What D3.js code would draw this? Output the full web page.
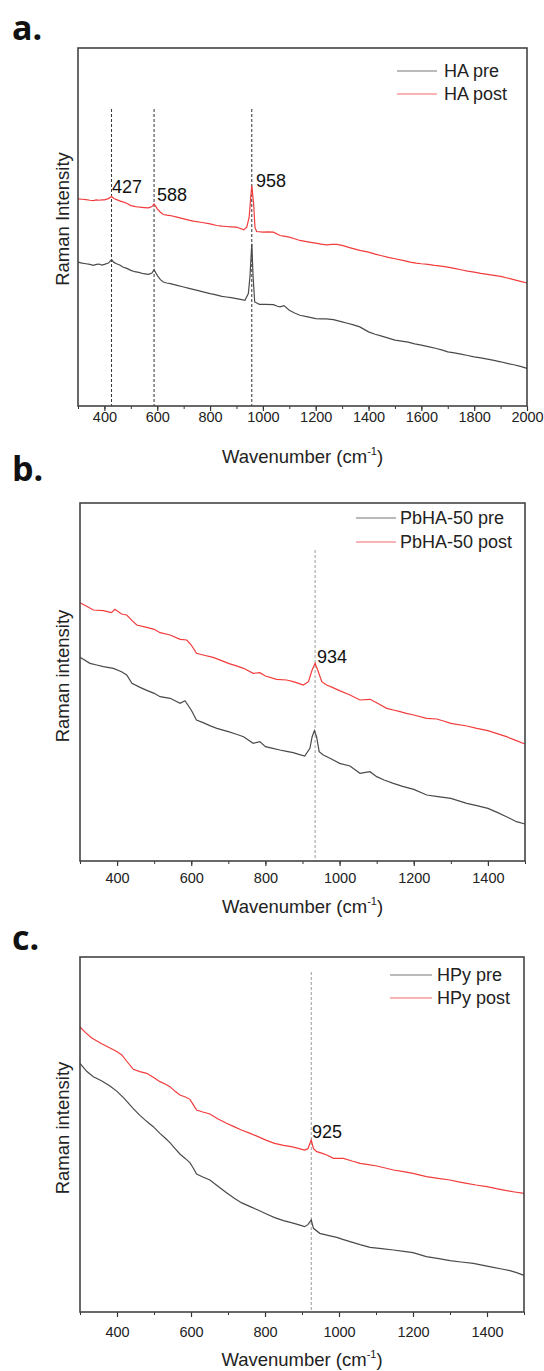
<!DOCTYPE html>
<html>
<head>
<meta charset="utf-8">
<script src="https://cdn.jsdelivr.net/npm/d3@7"></script>
<style>
  html, body { margin: 0; padding: 0; background: #fff; }
  svg { display: block; font-family: "Liberation Sans", Arial, sans-serif; }
</style>
</head>
<body>
<svg id="chart" width="544" height="1371"></svg>
<script>
// ---------- DATA (wavenumber cm-1, Raman intensity a.u.) ----------
const panelLetters = ["a.", "b.", "c."];
const yLabels = ["Raman Intensity", "Raman intensity", "Raman intensity"];
const xTitle = "Wavenumber (cm";
const legendA = ["HA pre", "HA post"];
const legendB = ["PbHA-50 pre", "PbHA-50 post"];
const legendC = ["HPy pre", "HPy post"];
const peaksA = [427, 588, 958];
const peaksB = [934];
const peaksC = [925];
const ticksA = [400, 600, 800, 1000, 1200, 1400, 1600, 1800, 2000];
const ticksBC = [400, 600, 800, 1000, 1200, 1400];

const haPre = [[300,433],[315,430],[330,428],[345,426],[358,423],[370,426],[380,427],[390,424],[400,426],[415,430],[427,440],[436,432],[446,428],[458,424],[470,418],[485,414],[500,408],[515,404],[530,402],[548,398],[567,396],[580,400],[588,410],[595,400],[600,393],[612,380],[623,373],[636,370],[650,368],[675,363],[700,358],[720,354],[740,350],[770,344],[800,338],[815,336],[830,333],[845,330],[862,328],[880,326],[900,323],[915,321],[932,318],[945,338],[951,388],[958,488],[963,388],[969,313],[987,306],[1010,306],[1040,305],[1055,300],[1065,298],[1080,302],[1100,288],[1120,280],[1140,273],[1170,268],[1200,263],[1220,262],[1240,262],[1267,260],[1300,253],[1320,249],[1340,245],[1367,238],[1400,223],[1425,216],[1450,210],[1475,204],[1500,198],[1525,195],[1550,192],[1575,187],[1600,183],[1630,178],[1657,173],[1680,168],[1700,163],[1725,160],[1750,156],[1775,152],[1800,148],[1825,145],[1850,141],[1875,137],[1900,133],[1925,128],[1950,124],[1975,119],[2000,113]];
const haPost = [[300,623],[315,622],[330,621],[345,619],[358,618],[370,620],[380,619],[390,620],[400,620],[415,624],[427,630],[436,624],[446,621],[458,617],[470,614],[484,610],[500,603],[518,600],[535,598],[550,597],[567,596],[580,600],[588,608],[595,600],[600,593],[612,583],[623,576],[636,574],[649,573],[675,568],[700,563],[720,559],[737,556],[770,552],[800,548],[825,543],[845,541],[862,540],[880,539],[900,538],[915,534],[927,530],[939,538],[948,568],[954,628],[958,663],[965,608],[970,538],[976,525],[1000,523],[1020,524],[1040,523],[1065,513],[1080,511],[1100,508],[1120,503],[1140,498],[1170,494],[1200,490],[1220,487],[1241,485],[1260,486],[1280,486],[1300,483],[1335,475],[1367,468],[1400,463],[1425,457],[1450,452],[1475,447],[1500,443],[1530,438],[1557,433],[1580,430],[1600,428],[1625,426],[1650,423],[1675,421],[1700,418],[1725,414],[1750,410],[1775,406],[1800,403],[1825,399],[1850,396],[1875,393],[1900,390],[1925,385],[1950,380],[1975,375],[2000,370]];

const pbPre = [[300,611],[327,593],[345,588],[363,583],[390,578],[412,568],[426,558],[440,533],[462,521],[480,512],[500,503],[516,493],[543,488],[570,473],[583,481],[600,453],[614,423],[632,415],[650,406],[669,398],[700,388],[720,381],[741,373],[767,353],[785,358],[800,343],[820,338],[839,333],[857,329],[875,325],[890,320],[906,315],[920,338],[926,373],[932,391],[938,373],[945,328],[956,318],[978,306],[1000,293],[1028,285],[1055,263],[1070,266],[1082,268],[1100,253],[1120,243],[1145,233],[1170,224],[1200,215],[1235,198],[1265,193],[1300,188],[1343,173],[1370,166],[1400,158],[1425,146],[1450,133],[1477,118],[1500,111]];
const pbPost = [[300,775],[318,764],[336,753],[363,751],[385,745],[394,755],[412,741],[426,738],[440,722],[453,708],[480,701],[500,695],[516,685],[543,678],[570,665],[588,663],[600,648],[614,623],[632,618],[659,611],[680,602],[700,593],[720,586],[741,578],[767,563],[785,565],[800,555],[830,545],[857,543],[875,538],[890,533],[902,528],[916,538],[926,573],[934,593],[941,573],[952,538],[965,528],[982,520],[1000,511],[1028,498],[1055,483],[1082,485],[1100,475],[1127,458],[1145,453],[1163,448],[1180,443],[1200,438],[1235,428],[1262,426],[1280,420],[1300,413],[1343,405],[1370,398],[1400,391],[1425,382],[1450,373],[1475,362],[1500,351]];

const hpyPre = [[300,746],[318,722],[336,706],[358,694],[381,678],[400,662],[420,640],[444,610],[462,590],[480,572],[498,556],[516,536],[530,522],[543,508],[557,490],[570,474],[585,460],[597,448],[606,432],[615,414],[632,405],[651,396],[672,378],[696,358],[716,342],[736,328],[760,316],[781,306],[804,294],[826,283],[850,274],[871,268],[890,262],[907,256],[916,262],[925,276],[931,251],[948,236],[970,230],[994,224],[1010,218],[1030,211],[1057,202],[1084,194],[1115,190],[1147,186],[1175,182],[1200,178],[1236,166],[1270,160],[1300,154],[1330,150],[1363,146],[1390,140],[1417,134],[1440,129],[1462,124],[1480,118],[1500,110]];
const hpyPost = [[300,855],[315,838],[332,822],[356,806],[381,792],[398,782],[413,771],[428,750],[444,728],[462,721],[480,716],[498,704],[516,691],[530,684],[543,676],[557,662],[570,651],[585,645],[597,638],[606,622],[615,606],[632,600],[651,594],[672,580],[696,566],[716,556],[736,546],[760,536],[781,526],[804,515],[826,506],[850,500],[871,496],[890,491],[907,486],[916,490],[925,516],[931,490],[940,481],[955,476],[967,471],[985,461],[1012,461],[1035,453],[1057,446],[1080,442],[1102,438],[1125,432],[1147,426],[1175,421],[1200,416],[1236,406],[1268,401],[1300,396],[1320,391],[1345,386],[1370,381],[1400,376],[1425,370],[1453,364],[1475,360],[1500,356]];

// ---------- LAYOUT ----------
const panels = [
  { letter: panelLetters[0], letterY: 40, left: 78, right: 527, top: 48, bottom: 406, xDom: [300, 2000], yMax: 1077,
    ticks: ticksA, minorStep: 100, pre: haPre, post: haPost, legend: legendA,
    legX1: 397, legX2: 437, legTX: 444, legY: [71, 94], ylab: yLabels[0], ylabY: 219,
    peaks: peaksA, dashTop: 109, dashColor: "#333", peakLab: [[112,193],[157,201],[256,187]],
    tickLabY: 422, titleY: 463 },
  { letter: panelLetters[1], letterY: 481, left: 80, right: 525, top: 503, bottom: 861, xDom: [300, 1500], yMax: 1074,
    ticks: ticksBC, minorStep: 100, pre: pbPre, post: pbPost, legend: legendB,
    legX1: 356, legX2: 396, legTX: 400, legY: [518, 542], ylab: yLabels[1], ylabY: 676,
    peaks: peaksB, dashTop: 550, dashColor: "#999", peakLab: [[317,663]],
    tickLabY: 883, titleY: 913 },
  { letter: panelLetters[2], letterY: 950, left: 80, right: 524, top: 957, bottom: 1312, xDom: [300, 1500], yMax: 1065,
    ticks: ticksBC, minorStep: 100, pre: hpyPre, post: hpyPost, legend: legendC,
    legX1: 390, legX2: 432, legTX: 437, legY: [975, 998], ylab: yLabels[2], ylabY: 1128,
    peaks: peaksC, dashTop: 972, dashColor: "#999", peakLab: [[312,1138]],
    tickLabY: 1337, titleY: 1366 }
];

const svg = d3.select("#chart");
const preColor = "#4a4a4a";
const postColor = "#f23c3c";

panels.forEach(p => {
  const g = svg.append("g");
  const x = d3.scaleLinear().domain(p.xDom).range([p.left, p.right]);
  const y = d3.scaleLinear().domain([0, p.yMax]).range([p.bottom, p.top]);

  // panel letter
  svg.append("text").attr("x", 12).attr("y", p.letterY)
    .attr("font-family", "'Open Sans', 'DejaVu Sans', sans-serif")
    .attr("font-weight", "bold").attr("font-size", 34).attr("fill", "#111")
    .text(p.letter);

  // dashed peak guides
  p.peaks.forEach(v => {
    g.append("line").attr("x1", x(v)).attr("x2", x(v))
      .attr("y1", p.dashTop).attr("y2", p.bottom)
      .attr("stroke", p.dashColor).attr("stroke-width", 1)
      .attr("stroke-dasharray", "3,2");
  });

  // curves
  const line = d3.line().x(d => x(d[0])).y(d => y(d[1]));
  g.append("path").datum(p.pre).attr("d", line)
    .attr("fill", "none").attr("stroke", preColor).attr("stroke-width", 1.2);
  g.append("path").datum(p.post).attr("d", line)
    .attr("fill", "none").attr("stroke", postColor).attr("stroke-width", 1.2);

  // peak labels
  p.peaks.forEach((v, i) => {
    g.append("text").attr("x", p.peakLab[i][0]).attr("y", p.peakLab[i][1])
      .attr("font-family", "'Liberation Sans', Arial, sans-serif")
      .attr("font-size", 18).attr("fill", "#111").text(v);
  });

  // minor ticks
  const minor = d3.range(p.xDom[0], p.xDom[1] + 1, p.minorStep);
  const minorAxis = d3.axisBottom(x).tickValues(minor).tickSize(3).tickFormat("");
  g.append("g").attr("transform", `translate(0,${p.bottom})`).call(minorAxis)
    .call(a => a.select(".domain").remove())
    .selectAll("line").attr("stroke", "#333").attr("stroke-width", 1);

  // major ticks
  const majorAxis = d3.axisBottom(x).tickValues(p.ticks).tickSize(5).tickPadding(3)
    .tickFormat(d3.format("d"));
  const ax = g.append("g").attr("transform", `translate(0,${p.bottom})`).call(majorAxis);
  ax.attr("font-family", "'Liberation Sans', Arial, sans-serif");
  ax.select(".domain").remove();
  ax.selectAll("line").attr("stroke", "#333").attr("stroke-width", 1.2);
  ax.selectAll("text").attr("font-size", 14.5).attr("fill", "#222")
    .attr("dy", null).attr("y", p.tickLabY - p.bottom);

  // frame
  g.append("rect").attr("x", p.left).attr("y", p.top)
    .attr("width", p.right - p.left).attr("height", p.bottom - p.top)
    .attr("fill", "none").attr("stroke", "#444").attr("stroke-width", 1.6);

  // x title
  const t = g.append("text").attr("x", (p.left + p.right) / 2).attr("y", p.titleY)
    .attr("font-family", "'Liberation Sans', Arial, sans-serif")
    .attr("text-anchor", "middle").attr("font-size", 18.5).attr("fill", "#222");
  t.append("tspan").text(xTitle);
  t.append("tspan").attr("font-size", 11).attr("dy", -8).text("-1");
  t.append("tspan").attr("dy", 8).text(")");

  // y label
  g.append("text").attr("transform", `translate(69,${p.ylabY}) rotate(-90)`)
    .attr("font-family", "'Liberation Sans', Arial, sans-serif")
    .attr("text-anchor", "middle").attr("font-size", 18.5).attr("fill", "#222")
    .text(p.ylab);

  // legend
  [preColor, postColor].forEach((c, i) => {
    g.append("line").attr("x1", p.legX1).attr("x2", p.legX2)
      .attr("y1", p.legY[i]).attr("y2", p.legY[i])
      .attr("stroke", c).attr("stroke-width", 1.2).attr("opacity", 0.75);
    g.append("text").attr("x", p.legTX).attr("y", p.legY[i])
      .attr("font-family", "'Liberation Sans', Arial, sans-serif")
      .attr("dominant-baseline", "central").attr("font-size", 18).attr("fill", "#222")
      .text(p.legend[i]);
  });
});
</script>
</body>
</html>
